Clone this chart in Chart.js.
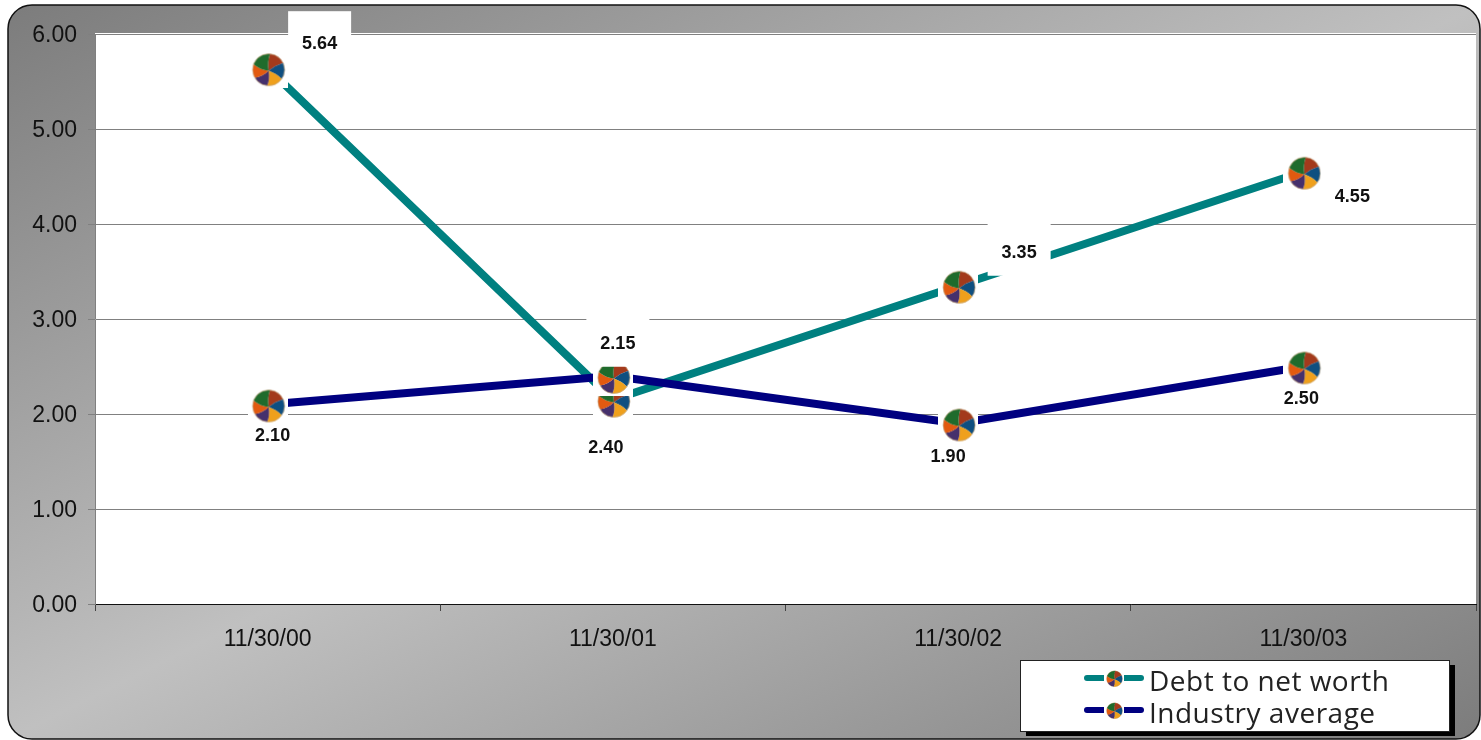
<!DOCTYPE html>
<html>
<head>
<meta charset="utf-8">
<style>
  html, body { margin: 0; padding: 0; background: #fff; }
  canvas { display: block; }
</style>
<script src="https://cdn.jsdelivr.net/npm/chart.js@4/dist/chart.umd.min.js"></script>
</head>
<body>
<canvas id="chart" width="1481" height="740"></canvas>
<script>
// Datos
var categories = ['11/30/00', '11/30/01', '11/30/02', '11/30/03'];
var debtValues = [5.64, 2.15, 3.35, 4.55];
var industryValues = [2.10, 2.40, 1.90, 2.50];
var yTicks = [0, 1, 2, 3, 4, 5, 6];

// Where each value label sits, relative to its point
var debtLabelOffsets = [[52, -25], [5, -57], [61, -34], [49, 24]];
var industryLabelOffsets = [[5, 31], [-7, 71], [-10, 33], [-2, 32]];

// Pie marker used for every point
function makeMarker() {
  var c = document.createElement('canvas');
  c.width = 40;
  c.height = 40;
  var g = c.getContext('2d');
  g.fillStyle = '#fff';
  g.fillRect(0, 0, 40, 40);
  var wedges = [
    ['#a33a1c', -85, -25],
    ['#0f4f80', -25, 35],
    ['#efa01c', 35, 95],
    ['#45306c', 95, 150],
    ['#e25a10', 150, 200],
    ['#1f6b2c', 200, 275]
  ];
  var r = 16, rad = Math.PI / 180, cx = 21, cy = 21.5;
  wedges.forEach(function(w) {
    var a0 = w[1] * rad, a1 = w[2] * rad, twist = 14 * rad;
    g.beginPath();
    g.moveTo(cx, cy + 1);
    g.quadraticCurveTo(cx + Math.cos(a0 - twist) * r * 0.55, cy + 1 + Math.sin(a0 - twist) * r * 0.55,
      cx + Math.cos(a0) * r, cy + Math.sin(a0) * r);
    g.arc(cx, cy, r, a0, a1);
    g.quadraticCurveTo(cx + Math.cos(a1 - twist) * r * 0.55, cy + 1 + Math.sin(a1 - twist) * r * 0.55, cx, cy + 1);
    g.closePath();
    g.fillStyle = w[0];
    g.fill();
  });
  g.beginPath();
  g.arc(cx, cy, r, 0, Math.PI * 2);
  g.strokeStyle = 'rgba(200,170,130,0.7)';
  g.lineWidth = 1;
  g.stroke();
  return c;
}
var marker = makeMarker();

// Rounded grey panel and white plot area
var panelPlugin = {
  id: 'panel',
  beforeDraw: function(chart) {
    var ctx = chart.ctx, a = chart.chartArea;
    var x = 8, y = 5, w = 1472, h = 734;
    var len = Math.sqrt(w * w + h * h);
    var dx = h / len, dy = w / len;
    var half = (w * dx + h * dy) / 2;
    var cx = x + w / 2, cy = y + h / 2;
    var grad = ctx.createLinearGradient(cx - dx * half, cy - dy * half, cx + dx * half, cy + dy * half);
    grad.addColorStop(0, '#7c7c7c');
    grad.addColorStop(0.5, '#c0c0c0');
    grad.addColorStop(1, '#7c7c7c');
    ctx.save();
    ctx.beginPath();
    ctx.roundRect(x, y, w, h, 24);
    ctx.fillStyle = grad;
    ctx.fill();
    ctx.strokeStyle = '#111';
    ctx.lineWidth = 1.5;
    ctx.stroke();
    ctx.fillStyle = '#fff';
    ctx.fillRect(a.left, a.top - 1, a.right - a.left, a.bottom - a.top + 1);
    ctx.restore();
  }
};

// Value labels, the debt series gets a white box behind its text
var labelPlugin = {
  id: 'valueLabels',
  afterDatasetsDraw: function(chart) {
    var ctx = chart.ctx;
    ctx.save();
    ctx.font = 'bold 18px "Liberation Sans"';
    ctx.textAlign = 'center';
    ctx.textBaseline = 'middle';
    chart.getDatasetMeta(0).data.forEach(function(pt, i) {
      ctx.fillStyle = '#fff';
      ctx.fillRect(pt.x + debtLabelOffsets[i][0] - 31.5, pt.y + debtLabelOffsets[i][1] - 32, 63, 56);
    });
    [[0, debtLabelOffsets], [1, industryLabelOffsets]].forEach(function(s) {
      var values = chart.data.datasets[s[0]].data;
      chart.getDatasetMeta(s[0]).data.forEach(function(pt, i) {
        ctx.fillStyle = '#111';
        ctx.fillText(values[i].toFixed(2), pt.x + s[1][i][0], pt.y + s[1][i][1] + 1);
      });
    });
    ctx.restore();
  }
};

// Legend box at the bottom right
var legendPlugin = {
  id: 'legendBox',
  afterDraw: function(chart) {
    var ctx = chart.ctx;
    ctx.save();
    ctx.fillStyle = '#000';
    ctx.fillRect(1026, 665, 429, 71);
    ctx.fillStyle = '#fff';
    ctx.fillRect(1021, 660, 429, 71);
    ctx.strokeStyle = '#222';
    ctx.lineWidth = 1;
    ctx.strokeRect(1020.5, 660.5, 429, 71);
    var rows = [[678, 683], [710, 715]];
    chart.data.datasets.forEach(function(ds, i) {
      var ly = rows[i][0];
      ctx.beginPath();
      ctx.moveTo(1087, ly);
      ctx.lineTo(1141, ly);
      ctx.strokeStyle = ds.borderColor;
      ctx.lineWidth = 6;
      ctx.lineCap = 'round';
      ctx.stroke();
      ctx.drawImage(marker, 1104, ly - 10, 20, 20);
      ctx.fillStyle = '#222';
      ctx.font = '28px "Open Sans"';
      ctx.letterSpacing = '0.5px';
      ctx.textAlign = 'left';
      ctx.textBaseline = 'middle';
      ctx.fillText(ds.label, 1149, rows[i][1]);
    });
    ctx.restore();
  }
};

var ctx = document.getElementById('chart').getContext('2d');
var chart = new Chart(ctx, {
  type: 'line',
  data: {
    labels: categories,
    datasets: [{
      label: 'Debt to net worth',
      data: debtValues,
      borderColor: '#008080',
      backgroundColor: '#008080',
      borderWidth: 8,
      tension: 0,
      pointStyle: marker,
      pointRadius: 20,
      order: 2
    }, {
      label: 'Industry average',
      data: industryValues,
      borderColor: '#000080',
      backgroundColor: '#000080',
      borderWidth: 8,
      tension: 0,
      pointStyle: marker,
      pointRadius: 20,
      order: 1
    }]
  },
  options: {
    responsive: false,
    animation: false,
    layout: { autoPadding: false, padding: { top: 34, right: 5, left: 0, bottom: 0 } },
    plugins: {
      legend: { display: false },
      title: { display: false },
      tooltip: { enabled: false }
    },
    scales: {
      x: {
        offset: true,
        afterFit: function(scale) { scale.height = 136; },
        grid: { offset: true, drawOnChartArea: false, color: '#444', tickLength: 7 },
        border: { color: '#111', width: 1 },
        ticks: {
          color: '#111',
          padding: 15,
          maxRotation: 0,
          font: { family: '"Liberation Sans"', size: 23 }
        }
      },
      y: {
        min: 0,
        max: 6,
        afterFit: function(scale) { scale.width = 95; },
        afterBuildTicks: function(scale) {
          scale.ticks = yTicks.map(function(v) { return { value: v }; });
        },
        grid: { color: '#808080', tickLength: 7 },
        border: { color: '#808080', width: 1 },
        ticks: {
          color: '#111',
          padding: 11,
          labelOffset: 2,
          font: { family: '"Liberation Sans"', size: 23 },
          callback: function(v) { return Number(v).toFixed(2); }
        }
      }
    }
  },
  plugins: [panelPlugin, labelPlugin, legendPlugin]
});
</script>
</body>
</html>
